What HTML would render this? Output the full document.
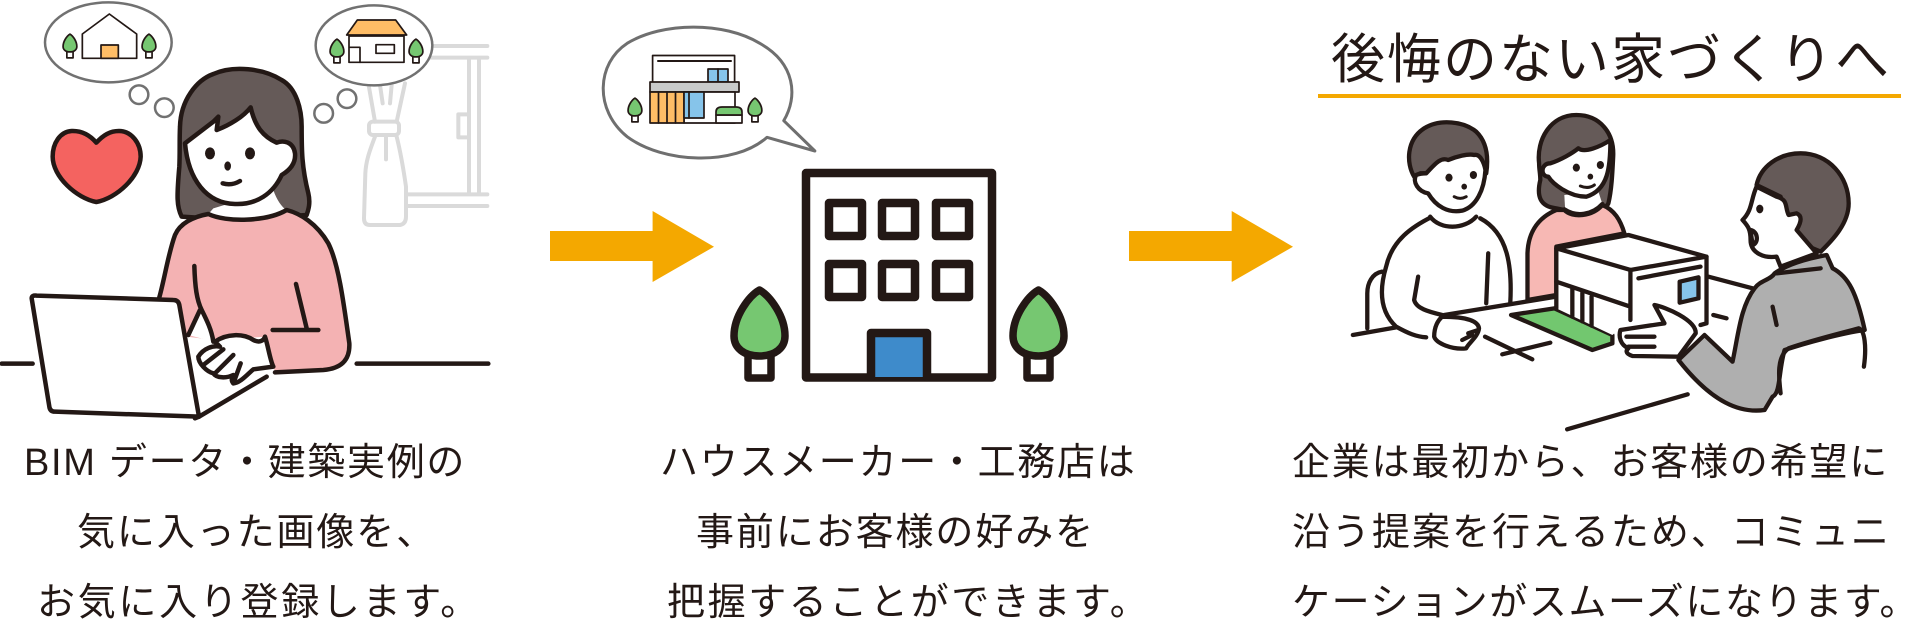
<!DOCTYPE html>
<html lang="ja"><head><meta charset="utf-8"><title>後悔のない家づくりへ</title>
<style>
html,body{margin:0;padding:0;background:#fff;width:1928px;height:638px;overflow:hidden}
svg{display:block}
svg *{vector-effect:non-scaling-stroke}
text{font-family:"Liberation Sans","Noto Sans CJK JP",sans-serif;fill:#231815;stroke:none;font-size:38px;letter-spacing:1.600px}
</style></head><body>
<svg width="1928" height="638" viewBox="0 0 1928 638" xmlns="http://www.w3.org/2000/svg" stroke-linejoin="round" stroke-linecap="round">
<defs>
<g id="tr"><rect x="18" y="68" width="23" height="24" fill="#fff"/><path fill="#76c771" d="M29.500 4C40 10 55 30 55 50C55 62 45 70 29.500 70C14 70 4 62 4 50C4 30 19 10 29.500 4Z"/></g>
</defs>

<!-- GROUP 1 -->
<g transform="scale(.33333)" fill="none" stroke="#231815" stroke-width="4.500">
 <g stroke="#dadada" stroke-width="4">
  <path d="M1290 138H1462M1290 173H1462M1407 180V580M1437 180V580M1225 583H1462M1225 618H1462M1407 343H1375V412H1407"/>
  <path d="M1105 250L1125 365M1215 250L1190 365M1140 255L1148 310M1175 255L1170 310M1158 410V478"/>
  <rect x="1107" y="365" width="90" height="40" rx="12"/>
  <path d="M1125 410C1110 450 1098 480 1096 520L1092 655Q1092 675 1110 675H1200Q1218 672 1218 650L1218 560Q1205 470 1190 410"/>
 </g>
 <ellipse cx="325" cy="127" rx="190" ry="120" fill="#fff" stroke="#717171" stroke-width="2.500"/>
 <path d="M247 102L328 42L410 102V175H247Z" stroke-width="1.700"/>
 <rect x="303" y="135" width="52" height="40" fill="#ffbd66" stroke-width="1.700"/>
 <ellipse cx="1122" cy="136" rx="175" ry="120" fill="#fff" stroke="#717171" stroke-width="2.500"/>
 <rect x="1047" y="108" width="165" height="79" fill="#fff" stroke-width="1.700"/>
 <path d="M1040 105L1072 60H1187L1220 105Z" fill="#ffbd66" stroke-width="1.700"/>
 <path d="M1050 142H1080V187" stroke-width="1.700"/>
 <rect x="1128" y="134" width="55" height="26" stroke-width="1.700"/>
 <g fill="none" stroke="#717171" stroke-width="2.500">
  <circle cx="417" cy="284" r="28"/><circle cx="493" cy="323" r="28"/><circle cx="971" cy="340" r="28"/><circle cx="1041" cy="296" r="28"/>
 </g>
 <path d="M289 428C265 400 240 392 215 393C180 395 158 430 158 470C158 530 230 595 289 606C350 595 420 530 422 470C422 430 395 393 357 393C330 393 310 405 289 428Z" fill="#f46360"/>
 <!-- hair -->
 <path d="M545 650C530 620 530 590 538 500C540 460 538 420 540 380C542 300 590 240 640 222C700 195 790 205 845 240C890 265 905 330 905 380C905 450 905 500 925 580C932 610 925 630 920 645L700 660Z" fill="#655a58"/>
 <!-- neck -->
 <path d="M640 625L820 570C830 600 845 620 860 632C800 665 680 668 625 642Z" fill="#fff" stroke="none"/>
 <!-- sweater -->
 <path d="M625 642C580 650 540 670 525 705C505 760 495 830 478 892L560 1010L640 1020L800 1010L825 1117L970 1110C1030 1105 1050 1075 1048 1030C1030 900 1015 790 985 730C950 670 900 640 860 630C800 665 680 668 625 642Z" fill="#f4b2b3" stroke="none"/>
 <path d="M478 892C495 830 505 760 525 705C540 670 580 650 625 642C680 668 800 665 860 630C900 640 950 670 985 730C1015 790 1030 900 1048 1030C1050 1075 1030 1105 970 1110L825 1117"/>
 <path d="M600 930L565 1005L640 1025C635 990 620 960 600 930Z" fill="#fff" stroke="none"/>
 <path d="M600 930L565 1005"/>
 <path d="M583 798C585 860 590 900 605 930C620 960 635 990 640 1025M888 852L920 985M818 990H955"/>
 <!-- face -->
 <path d="M555 430L640 365L655 350L650 390C690 375 730 350 752 322C765 380 790 410 830 428C850 420 880 425 885 460C888 490 870 510 845 525C820 580 770 615 705 612C620 610 565 540 555 430Z" fill="#fff"/>
 <ellipse cx="630" cy="460" rx="15" ry="18" fill="#231815" stroke="none"/>
 <ellipse cx="750" cy="460" rx="15" ry="18" fill="#231815" stroke="none"/>
 <ellipse cx="683" cy="498" rx="10" ry="14" fill="#231815" stroke="none"/>
 <path d="M668 550Q695 558 720 543"/>
 <!-- hand -->
 <path d="M645 1025C680 1000 730 1000 760 1020C775 1028 790 1025 795 1010C805 1040 810 1080 820 1100L760 1108C745 1120 720 1150 700 1150C690 1140 700 1125 700 1125C680 1135 650 1135 640 1120C620 1115 595 1090 595 1070C610 1045 640 1035 660 1040Z" fill="#fff"/>
 <path d="M610 1095L670 1048M645 1120L700 1065M700 1150L722 1090"/>
 <!-- laptop -->
 <path d="M95 895Q95 885 110 887L520 900Q535 900 538 915L597 1250L165 1235Q150 1235 148 1220Z" fill="#fff"/>
 <path d="M585 1255L597 1250L800 1130M5 1091H98M1070 1091H1465"/>
</g>
<g stroke="#231815" stroke-width="1.700">
 <use href="#tr" transform="translate(62,33) scale(.27)"/>
 <use href="#tr" transform="translate(141,33) scale(.27)"/>
 <use href="#tr" transform="translate(329,38) scale(.27)"/>
 <use href="#tr" transform="translate(408,38) scale(.27)"/>
</g>

<!-- GROUP 2 -->
<g transform="translate(520,0) scale(.51020,.33333)" stroke="#6f6f6f" stroke-width="3" fill="#fff">
 <path d="M517 362C545 290 540 190 470 130C400 65 280 65 210 130C150 190 145 330 210 410C280 490 420 500 484 412L578 453Z"/>
</g>
<g stroke="#231815" stroke-width="1.700" fill="#fff">
 <rect x="652.600" y="55.500" width="82" height="27"/>
 <path d="M658 61H731" stroke-width="2"/>
 <rect x="708" y="69" width="20" height="13" fill="#86c4ea"/>
 <path d="M718 69V82"/>
 <rect x="650" y="82" width="89" height="10" fill="#c9caca"/>
 <rect x="684" y="92" width="51" height="31"/>
 <rect x="650" y="92" width="34" height="31" fill="#ffbd66"/>
 <path d="M658.500 92V123M667 92V123M675.500 92V123"/>
 <rect x="684" y="92" width="20" height="26" fill="#86c4ea"/>
 <path d="M689 92V118"/>
 <rect x="716" y="115" width="26" height="8"/>
 <path d="M716 115V112Q716 107 722 107H736Q742 107 742 112V115Z" fill="#76c771"/>
 <use href="#tr" transform="translate(627,97) scale(.27)"/>
 <use href="#tr" transform="translate(747,97) scale(.27)"/>
</g>
<g fill="#f4a800" stroke="none">
 <path d="M550 231H652.600V211L714 246.700L652.600 282V261H550Z"/>
 <path d="M1129 231H1231.700V211L1293 246.700L1231.700 282V261H1129Z"/>
</g>
<g stroke="#231815" stroke-width="8.500" fill="#fff">
 <rect x="806" y="173" width="186" height="204.500" stroke-linejoin="round"/>
 <g fill="#fff">
  <rect x="829" y="203" width="33" height="33"/><rect x="882" y="203" width="33" height="33"/><rect x="936" y="203" width="33" height="33"/>
  <rect x="829" y="264" width="33" height="33"/><rect x="882" y="264" width="33" height="33"/><rect x="936" y="264" width="33" height="33"/>
 </g>
 <path d="M871 377V333H927V377" fill="#3e8bcb"/>
</g>
<g stroke="#231815" stroke-width="7.500">
 <use href="#tr" transform="translate(730,286)"/>
 <use href="#tr" transform="translate(1009,286)"/>
</g>

<!-- GROUP 3 -->
<rect x="1318" y="94" width="583" height="4" fill="#f4a800"/>
<text x="1331" y="78" style="font-size:54px;letter-spacing:2px">後悔のない家づくりへ</text>
<g transform="translate(1300,0) scale(.40050,.33333)" fill="none" stroke="#231815" stroke-width="4.300">
 <!-- woman -->
 <path d="M640 625C600 620 590 590 600 540C600 520 597 510 597 490C590 420 625 345 690 345C750 345 785 400 782 470C780 520 778 570 770 610C765 625 730 640 700 640Z" fill="#655a58"/>
 <path d="M640 630C600 650 570 690 568 760L568 900L640 885L640 740L810 700C800 660 785 630 755 615C730 650 680 655 660 630Z" fill="#f7b8b4"/>
 <path d="M660 585L662 628C690 652 730 645 755 612L745 575Z" fill="#fff" stroke="none"/>
 <path d="M660 628C690 652 730 645 755 612"/>
 <path d="M625 490C650 480 680 460 695 445C710 460 750 440 775 420C775 500 770 570 715 590C670 590 630 550 620 530C600 530 600 490 625 490Z" fill="#fff"/>
 <ellipse cx="690" cy="503" rx="9" ry="12" fill="#231815" stroke="none"/>
 <ellipse cx="750" cy="495" rx="9" ry="12" fill="#231815" stroke="none"/>
 <ellipse cx="725" cy="530" rx="7" ry="9" fill="#231815" stroke="none"/>
 <path d="M700 558Q720 568 735 555" stroke-width="3"/>
 <!-- man -->
 <path d="M205 815C180 820 168 850 168 880L168 985"/>
 <path d="M285 530C265 490 265 420 310 385C350 355 410 365 440 395C470 430 470 480 465 520L300 520Z" fill="#655a58"/>
 <path d="M330 650C280 680 230 720 215 800C200 860 195 930 240 980C270 1000 290 1010 315 1012L340 950L525 910C530 800 520 700 450 655C420 680 360 695 325 650Z" fill="#fff" stroke="none"/>
 <path d="M330 650C280 680 230 720 215 800C200 860 195 930 240 980C270 1000 290 1010 315 1012M525 910C530 800 520 700 450 655"/>
 <path d="M330 610L355 632L440 625L440 650C410 690 350 690 325 650Z" fill="#fff" stroke="none"/>
 <path d="M325 650C350 690 410 690 440 650"/>
 <path d="M315 520C335 495 350 470 370 480C390 470 420 460 435 465C450 460 460 490 463 510C460 570 440 620 405 632C370 640 340 620 320 580C295 575 280 545 290 525C300 520 310 520 315 520Z" fill="#fff"/>
 <ellipse cx="372" cy="533" rx="9" ry="12" fill="#231815" stroke="none"/>
 <ellipse cx="433" cy="525" rx="9" ry="12" fill="#231815" stroke="none"/>
 <ellipse cx="410" cy="560" rx="7" ry="9" fill="#231815" stroke="none"/>
 <path d="M385 590Q400 600 415 590" stroke-width="3"/>
 <path d="M295 830L285 900C290 925 320 935 355 945M470 760L465 910"/>
 <path d="M132 1005L240 982M360 945L640 890"/>
 <path d="M355 950C420 950 445 965 447 985C445 1010 420 1030 415 1045C380 1050 340 1030 335 1010C335 980 345 960 355 950Z" fill="#fff"/>
 <path d="M420 1000L445 990M405 1020L430 1005"/>
 <path d="M462 1010L580 1078M505 1063L625 1028M1032 945L1065 955M1020 830L1130 865"/>
 <!-- model -->
 <path d="M527 945L635 925L780 1005V1030L730 1050Z" fill="#72c76f"/>
 <path d="M640 745L825 810V960L780 1005L640 925Z" fill="#fff" stroke="none"/>
 <path d="M825 810L1015 770V970L825 960Z" fill="#fff" stroke="none"/>
 <path d="M1015 770V970L1000 975M640 745V925"/>
 <path d="M640 745L820 705L1015 770L825 810Z" fill="#fff"/>
 <path d="M640 845L825 920M680 865V950M705 878V964M728 890V977M845 835L1000 800M825 810V960"/>
 <path d="M948 845L995 832V895L948 908Z" fill="#86c4ea"/>
 <!-- presenter -->
 <path d="M1140 555C1150 500 1195 460 1250 460C1320 460 1370 530 1370 610C1370 670 1330 720 1300 755L1230 720L1200 590Z" fill="#655a58"/>
 <path d="M1140 560C1125 600 1130 630 1105 660C1120 680 1125 690 1125 720C1125 760 1160 775 1190 770L1200 800L1290 760L1240 690Q1260 650 1240 640L1220 645C1210 620 1220 600 1190 590Z" fill="#fff"/>
 <ellipse cx="1148" cy="627" rx="9" ry="13" fill="#231815" stroke="none"/>
 <path d="M1125 690C1145 695 1145 730 1130 735Z" fill="#fff"/>
 <path d="M1185 820C1220 790 1270 775 1315 765L1330 805C1370 830 1390 880 1410 990C1350 1000 1260 1030 1210 1050C1195 1110 1200 1180 1180 1190L1160 1230C1100 1240 1030 1210 945 1080L1010 1005L1080 1085C1095 1000 1100 920 1135 865C1150 840 1175 840 1185 820Z" fill="#afafaf"/>
 <path d="M1200 1180C1195 1130 1190 1070 1220 1045C1280 1020 1350 1000 1395 985C1410 990 1415 1040 1408 1100M1180 920L1190 975M1190 820L1300 805"/>
 <path d="M945 1070L830 1068C810 1060 815 1050 820 1045C800 1035 795 1010 800 990L910 970L885 915C910 920 990 960 988 1000Z" fill="#fff"/>
 <path d="M815 1010H885M820 1040H885M667 1288L968 1183"/>
</g>

<!-- CAPTIONS -->
<text x="24" y="475" textLength="442">BIM データ・建築実例の</text>
<text x="77" y="545" style="letter-spacing:1.900px">気に入った画像を、</text>
<text x="37" y="615" style="letter-spacing:2.700px">お気に入り登録します。</text>
<text x="660" y="475" style="letter-spacing:1.700px">ハウスメーカー・工務店は</text>
<text x="696" y="545" style="letter-spacing:1.900px">事前にお客様の好みを</text>
<text x="667" y="615" style="letter-spacing:2.600px">把握することができます。</text>
<text x="1292" y="475" style="letter-spacing:1.800px">企業は最初から、お客様の希望に</text>
<text x="1292" y="545" style="letter-spacing:2px">沿う提案を行えるため、コミュニ</text>
<text x="1292" y="615">ケーションがスムーズになります。</text>
</svg>
</body></html>
